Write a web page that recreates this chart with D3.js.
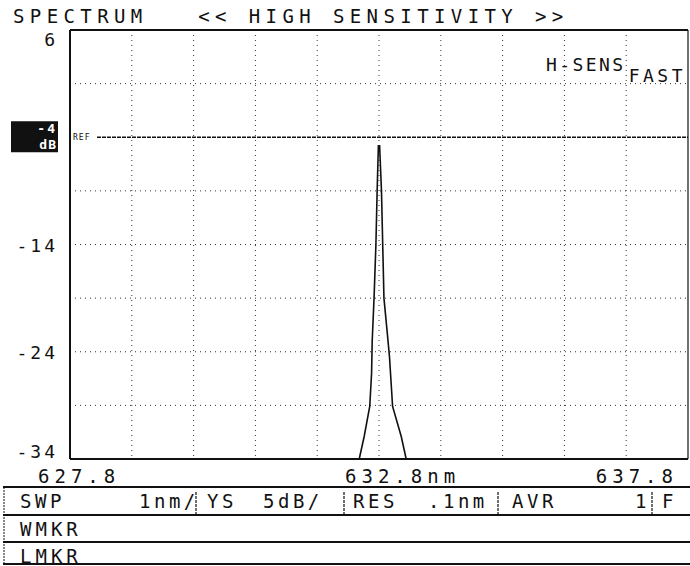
<!DOCTYPE html>
<html>
<head>
<meta charset="utf-8">
<script src="https://cdn.jsdelivr.net/npm/d3@7"></script>
<style>
  body { margin: 0; background: #fff; }
  svg { display: block; }
  text { font-family: "DejaVu Sans Mono", monospace; fill: #111; }
</style>
</head>
<body>
<div class="chart"></div>
<script>
// chart data
const title = "SPECTRUM   << HIGH SENSITIVITY >>";
const wlStart = 627.8, wlEnd = 637.8, wlStep = 1;
const wlTicks = [627.8, 632.8, 637.8];
const wlLabels = ["627.8", "632.8nm", "637.8"];
const dbTop = 6, dbBottom = -34, dbStep = 5;
const dbTicks = [6, -14, -24, -34];
const refDb = -4;
const modeLabels = ["H-SENS", "FAST"];
const traceNm = [632.48, 632.56, 632.65, 632.68, 632.69, 632.72, 632.75, 632.77, 632.79,
                 632.81, 632.84, 632.86, 632.88, 632.93, 632.97, 633.02, 633.16, 633.24];
const traceDb = [-34, -31.9, -29.1, -26, -23, -19, -14, -9, -4.8,
                 -4.8, -9, -14, -19, -22, -24.5, -29.1, -31.9, -34];
const settingCells = ["SWP", "1nm/", "YS", "5dB/", "RES", ".1nm", "AVR", "1", "F"];
const markerRows = ["WMKR", "LMKR"];

const W = 690, H = 566;
const plot = {left: 70, right: 688, top: 30, bottom: 459};

const svg = d3.select(".chart")
  .append("svg")
  .attr("width", W)
  .attr("height", H);

const x = d3.scaleLinear().domain([wlStart, wlEnd]).range([plot.left, plot.right]);
const y = d3.scaleLinear().domain([dbTop, dbBottom]).range([plot.top, plot.bottom]);

// title
svg.append("text")
  .attr("x", 13)
  .attr("y", 23)
  .style("font-size", "19px")
  .style("letter-spacing", "5.4px")
  .attr("xml:space", "preserve")
  .style("white-space", "pre")
  .text(title);

// grid
const vGrid = d3.range(1, (wlEnd - wlStart) / wlStep).map(i => wlStart + i * wlStep);
svg.append("g")
  .selectAll("line")
  .data(vGrid)
  .enter()
  .append("line")
  .attr("x1", d => x(d)).attr("x2", d => x(d))
  .attr("y1", plot.top).attr("y2", plot.bottom)
  .attr("stroke", "#333")
  .attr("stroke-width", 1)
  .attr("stroke-dasharray", "1,4");

const hGrid = d3.range(1, (dbTop - dbBottom) / dbStep).map(i => dbTop - i * dbStep)
  .filter(d => d !== refDb);
svg.append("g")
  .selectAll("line")
  .data(hGrid)
  .enter()
  .append("line")
  .attr("x1", plot.left).attr("x2", plot.right)
  .attr("y1", d => y(d)).attr("y2", d => y(d))
  .attr("stroke", "#333")
  .attr("stroke-width", 1)
  .attr("stroke-dasharray", "1,4");

// frame
svg.append("line")
  .attr("x1", plot.left).attr("x2", plot.right)
  .attr("y1", plot.top).attr("y2", plot.top)
  .attr("stroke", "#111").attr("stroke-width", 2);
svg.append("line")
  .attr("x1", plot.left).attr("x2", plot.right)
  .attr("y1", plot.bottom).attr("y2", plot.bottom)
  .attr("stroke", "#111").attr("stroke-width", 2);
svg.append("line")
  .attr("x1", plot.left).attr("x2", plot.left)
  .attr("y1", plot.top).attr("y2", plot.bottom)
  .attr("stroke", "#111").attr("stroke-width", 2);
svg.append("line")
  .attr("x1", plot.right).attr("x2", plot.right)
  .attr("y1", plot.top).attr("y2", plot.bottom)
  .attr("stroke", "#111").attr("stroke-width", 1.2);

// reference level
svg.append("line")
  .attr("x1", plot.left + 27).attr("x2", plot.right)
  .attr("y1", y(refDb)).attr("y2", y(refDb))
  .attr("stroke", "#111")
  .attr("stroke-width", 1.3)
  .attr("stroke-dasharray", "4,1");
svg.append("text")
  .attr("x", plot.left + 3)
  .attr("y", y(refDb) + 3)
  .style("font-size", "8px")
  .style("letter-spacing", "1px")
  .text("REF");

// inverted ref label
svg.append("rect")
  .attr("x", 11).attr("y", y(refDb) - 16)
  .attr("width", 47).attr("height", 31)
  .attr("fill", "#111");
svg.append("text")
  .attr("x", 57).attr("y", y(refDb) - 4)
  .attr("text-anchor", "end")
  .style("font-size", "13px")
  .style("font-weight", "bold")
  .style("letter-spacing", "2px")
  .style("fill", "#fff")
  .text(String(refDb));
svg.append("text")
  .attr("x", 57).attr("y", y(refDb) + 11.5)
  .attr("text-anchor", "end")
  .style("font-size", "13px")
  .style("font-weight", "bold")
  .style("letter-spacing", "1px")
  .style("fill", "#fff")
  .text("dB");

// y labels
svg.append("g")
  .selectAll("text")
  .data(dbTicks)
  .enter()
  .append("text")
  .attr("x", 58)
  .attr("y", d => d === dbTop ? y(d) + 16 : d === dbBottom ? y(d) - 1 : y(d) + 7)
  .attr("text-anchor", "end")
  .style("font-size", "18px")
  .style("letter-spacing", "3px")
  .text(d => String(d));

// x labels
svg.append("g")
  .selectAll("text")
  .data(wlTicks)
  .enter()
  .append("text")
  .attr("x", (d, i) => i === 0 ? x(d) - 32 : i === 1 ? x(d) - 34 : x(d) - 10)
  .attr("y", 483)
  .attr("text-anchor", (d, i) => i === 2 ? "end" : "start")
  .style("font-size", "19px")
  .style("letter-spacing", "5px")
  .text((d, i) => wlLabels[i]);

// mode labels
svg.append("text")
  .attr("x", 546).attr("y", 71)
  .style("font-size", "18px")
  .style("letter-spacing", "2.4px")
  .text(modeLabels[0]);
svg.append("text")
  .attr("x", 686).attr("y", 82)
  .attr("text-anchor", "end")
  .style("font-size", "18px")
  .style("letter-spacing", "3.5px")
  .text(modeLabels[1]);

// trace
const trace = traceNm.map((d, i) => ({nm: d, db: traceDb[i]}));
svg.append("path")
  .datum(trace)
  .attr("fill", "none")
  .attr("stroke", "#111")
  .attr("stroke-width", 1.6)
  .attr("d", d3.line().x(d => x(d.nm)).y(d => y(d.db)));

// settings table
const rows = [487, 515, 542, 564];
svg.append("g")
  .selectAll("line")
  .data(rows)
  .enter()
  .append("line")
  .attr("x1", 3).attr("x2", W)
  .attr("y1", d => d).attr("y2", d => d)
  .attr("stroke", "#111")
  .attr("stroke-width", 1.8);
svg.append("line")
  .attr("x1", 4).attr("x2", 4)
  .attr("y1", rows[0]).attr("y2", rows[3])
  .attr("stroke", "#111")
  .attr("stroke-width", 1)
  .attr("stroke-dasharray", "2,1");

const cellX = [20, 139, 207, 263, 353, 428, 512, 635, 662];
svg.append("g")
  .selectAll("text")
  .data(settingCells)
  .enter()
  .append("text")
  .attr("x", (d, i) => cellX[i])
  .attr("y", 508)
  .style("font-size", "19px")
  .style("letter-spacing", "3.5px")
  .text(d => d);

const sepX = [196, 344, 498, 652];
svg.append("g")
  .selectAll("line")
  .data(sepX)
  .enter()
  .append("line")
  .attr("x1", d => d).attr("x2", d => d)
  .attr("y1", 492).attr("y2", rows[1])
  .attr("stroke", "#111")
  .attr("stroke-width", 1.2)
  .attr("stroke-dasharray", "3,1");

svg.append("g")
  .selectAll("text")
  .data(markerRows)
  .enter()
  .append("text")
  .attr("x", 20)
  .attr("y", (d, i) => rows[i + 1] + 21)
  .style("font-size", "19px")
  .style("letter-spacing", "4px")
  .text(d => d);
</script>
</body>
</html>
